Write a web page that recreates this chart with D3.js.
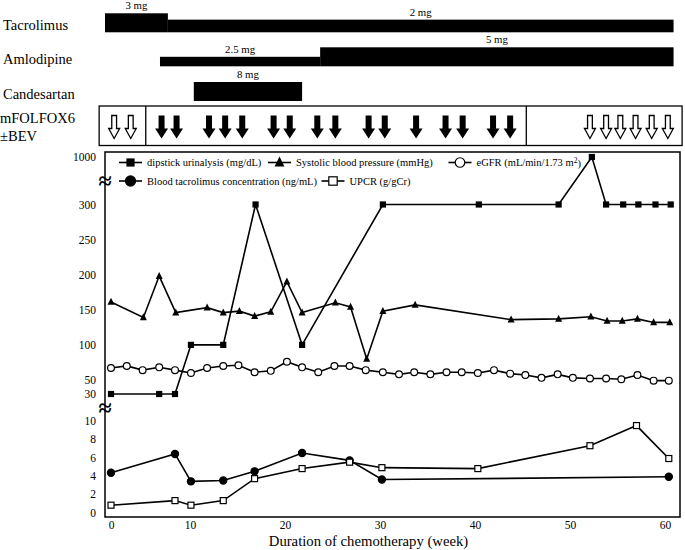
<!DOCTYPE html>
<html>
<head>
<meta charset="utf-8">
<script src="https://cdn.jsdelivr.net/npm/d3@7"></script>
<style>
  body { margin: 0; background: #fff; }
  text { font-family: "Liberation Serif", "Times New Roman", serif; fill: #000; }
</style>
</head>
<body>
<div class="chart"></div>
<script>
// weeks of chemotherapy and measured values
const dipWeeks = [0, 6.1, 8.1, 10.1, 13.5, 16.9, 21.8, 30.3, 40.4, 48.8, 52.3, 53.8, 55.6, 57.2, 59, 60.6];
const dipstick = [30, 30, 30, 100, 100, 300, 100, 300, 300, 300, 1000, 300, 300, 300, 300, 300];

const sbpWeeks = [0, 4.1, 6.1, 8.2, 11.8, 13.5, 15.2, 16.8, 18.5, 20.2, 21.8, 25.3, 26.9, 28.6, 30.3, 33.7, 43.8, 48.8, 52.2, 53.9, 55.5, 57.1, 58.8, 60.5];
const sbp = [161, 139, 198, 146, 153, 146, 148, 141, 147, 190, 146, 160, 154, 80, 148, 157, 136, 137, 140, 134, 134, 137, 132, 132];

const egfrWeeks = [0, 2, 4, 6.1, 8.1, 10.1, 11.8, 13.5, 15.1, 16.8, 18.5, 20.2, 21.8, 23.5, 25.2, 26.8, 28.5, 30.3, 32, 33.6, 35.3, 37, 38.6, 40.3, 42, 43.7, 45.3, 47, 48.7, 50.3, 52.1, 53.8, 55.4, 57.1, 58.8, 60.4];
const egfr = [67, 70, 64, 68, 64, 60, 67, 70, 71, 61, 63, 76, 68, 61, 70, 70, 64, 61, 58, 61, 58, 61, 61, 60, 64, 59, 57, 53, 58, 53, 52, 52, 51, 57, 49, 49];

const tacWeeks = [0, 8.1, 10.1, 13.5, 16.8, 21.8, 26.8, 30.2, 60.4];
const tacConc = [4.35, 6.4, 3.4, 3.5, 4.5, 6.5, 5.7, 3.6, 3.9];

const upcrWeeks = [0, 8.1, 10.1, 13.5, 16.8, 21.8, 26.8, 30.2, 40.3, 52.1, 57, 60.4];
const upcr = [0.8, 1.3, 0.8, 1.3, 3.7, 4.8, 5.5, 4.9, 4.8, 7.3, 9.5, 5.9];

// drug dosing periods (weeks)
const drugNames = ['Tacrolimus', 'Amlodipine', 'Candesartan'];
const drugMax = [3, 5, 8];
const tacrolimusDoses = [{from: -0.76, to: 7.2, dose: 3}, {from: 7.2, to: 60.9, dose: 2}];
const amlodipineDoses = [{from: 6.2, to: 23.7, dose: 2.5}, {from: 23.7, to: 60.9, dose: 5}];
const candesartanDoses = [{from: 10.4, to: 21.8, dose: 8}];

// chemotherapy cycles
const phaseBounds = [-1.5, 4.4, 45.4, 61.8];
const mfolfoxWeeks = [0.4, 2.5, 52.1, 53.8, 55.3, 56.9, 58.6, 60.3];
const bevWeeks = [6.4, 8.3, 12, 13.7, 15.5, 18.8, 20.5, 23.4, 25.3, 28.8, 30.5, 33.8, 36.9, 38.7, 41.9, 43.7];

const xTicks = [0, 10, 20, 30, 40, 50, 60];
const yTicks = [0, 2, 4, 6, 8, 10, 30, 50, 100, 150, 200, 250, 300, 1000];

const W = 685, H = 550;
const plot = {left: 105, right: 680, top: 152, bottom: 517};

const svg = d3.select('.chart').append('svg')
    .attr('width', W)
    .attr('height', H);

// x: first 10 weeks are squeezed in the original
const x = d3.scaleLinear()
    .domain([0, 10, 60])
    .range([111, 190, 665]);

// broken y axis: 0-10 / 30-300 / 1000
const y = d3.scaleLinear()
    .domain([0, 10, 30, 300, 1000])
    .range([512.5, 421, 394, 204.5, 157]);

// ---- drug bars ----
const rowBottom = [32.3, 66.3, 101];
const barMax = 19;
[tacrolimusDoses, amlodipineDoses, candesartanDoses].forEach((doses, i) => {
    const h = d3.scaleLinear().domain([0, drugMax[i]]).range([0, barMax]);
    svg.append('text')
        .attr('x', 3)
        .attr('y', rowBottom[i] - 7)
        .attr('dy', '0.35em')
        .attr('font-size', 14.5)
        .text(drugNames[i]);
    svg.append('g').selectAll('rect')
        .data(doses)
        .join('rect')
        .attr('x', d => x(d.from))
        .attr('width', d => x(d.to) - x(d.from))
        .attr('y', d => rowBottom[i] - h(d.dose))
        .attr('height', d => h(d.dose))
        .attr('fill', '#000');
    svg.append('g').selectAll('text')
        .data(doses)
        .join('text')
        .attr('x', d => (x(d.from) + x(d.to)) / 2)
        .attr('y', d => rowBottom[i] - h(d.dose) - 4)
        .attr('text-anchor', 'middle')
        .attr('font-size', 10.8)
        .text(d => d.dose + ' mg');
});

// ---- chemo box ----
const boxTop = 106, boxBottom = 145.5;
svg.append('rect')
    .attr('x', x(phaseBounds[0]))
    .attr('y', boxTop)
    .attr('width', x(phaseBounds[3]) - x(phaseBounds[0]))
    .attr('height', boxBottom - boxTop)
    .attr('fill', 'none')
    .attr('stroke', '#000')
    .attr('stroke-width', 1.3);
svg.append('g').selectAll('line')
    .data(phaseBounds.slice(1, 3))
    .join('line')
    .attr('x1', d => x(d)).attr('x2', d => x(d))
    .attr('y1', boxTop).attr('y2', boxBottom)
    .attr('stroke', '#000')
    .attr('stroke-width', 1.3);

svg.append('text').attr('x', 0).attr('y', 118).attr('dy', '0.35em')
    .attr('font-size', 14.5).text('mFOLFOX6');
svg.append('text').attr('x', 0).attr('y', 136).attr('dy', '0.35em')
    .attr('font-size', 14.5).text('±BEV');

function arrow(sw, hw) {
    // down arrow, tip at 0,23
    return `M${-sw},0 L${sw},0 L${sw},13 L${hw},13 L0,23 L${-hw},13 L${-sw},13 Z`;
}
const arrowTop = 115.5;
svg.append('g').selectAll('path')
    .data(bevWeeks)
    .join('path')
    .attr('transform', d => `translate(${x(d)},${arrowTop})`)
    .attr('d', arrow(3, 6.5))
    .attr('fill', '#000');
svg.append('g').selectAll('path')
    .data(mfolfoxWeeks)
    .join('path')
    .attr('transform', d => `translate(${x(d)},${arrowTop})`)
    .attr('d', arrow(2.4, 5.5))
    .attr('fill', '#fff')
    .attr('stroke', '#000')
    .attr('stroke-width', 1.3);

// ---- main plot ----
svg.append('rect')
    .attr('x', plot.left).attr('y', plot.top)
    .attr('width', plot.right - plot.left)
    .attr('height', plot.bottom - plot.top)
    .attr('fill', 'none')
    .attr('stroke', '#000')
    .attr('stroke-width', 1.5);

let X = svg.append('g')
    .attr('transform', `translate(0,${plot.bottom})`)
    .call(d3.axisBottom(x).tickValues(xTicks).tickSize(0).tickPadding(4));
X.select('.domain').remove();
X.selectAll('text').attr('font-size', 11.5);

let Y = svg.append('g')
    .attr('transform', `translate(${plot.left},0)`)
    .call(d3.axisLeft(y).tickValues(yTicks).tickFormat(d3.format('d')).tickSize(0).tickPadding(9));
Y.select('.domain').remove();
Y.selectAll('text').attr('font-size', 11.5);

// axis breaks
[[300, 1000], [10, 30]].forEach(p => {
    svg.append('text')
        .attr('x', plot.left)
        .attr('y', (y(p[0]) + y(p[1])) / 2)
        .attr('dy', '0.35em')
        .attr('text-anchor', 'middle')
        .attr('font-size', 24)
        .attr('font-weight', 'bold')
        .text('≈');
});

svg.append('text')
    .attr('x', 368.5)
    .attr('y', 546)
    .attr('text-anchor', 'middle')
    .attr('font-size', 14.7)
    .text('Duration of chemotherapy (week)');

const line = d3.line().x(d => x(d[0])).y(d => y(d[1]));

const series = [
    {weeks: dipWeeks, vals: dipstick, mark: 'square', fill: '#000', size: 5},
    {weeks: sbpWeeks, vals: sbp, mark: 'triangle', fill: '#000', size: 7},
    {weeks: egfrWeeks, vals: egfr, mark: 'circle', fill: '#fff', size: 3.4},
    {weeks: tacWeeks, vals: tacConc, mark: 'circle', fill: '#000', size: 3.6},
    {weeks: upcrWeeks, vals: upcr, mark: 'square', fill: '#fff', size: 6}
];

function drawMark(g, s, cx, cy, scale) {
    const k = scale || 1;
    if (s.mark === 'square') {
        const a = s.size * k;
        g.append('rect').attr('x', cx - a / 2).attr('y', cy - a / 2)
            .attr('width', a).attr('height', a)
            .attr('fill', s.fill).attr('stroke', '#000').attr('stroke-width', 1.2);
    } else if (s.mark === 'triangle') {
        const a = s.size * k;
        g.append('path')
            .attr('d', `M${cx},${cy - a * 0.6} L${cx + a / 2},${cy + a * 0.4} L${cx - a / 2},${cy + a * 0.4} Z`)
            .attr('fill', s.fill);
    } else {
        g.append('circle').attr('cx', cx).attr('cy', cy).attr('r', s.size * k)
            .attr('fill', s.fill).attr('stroke', '#000').attr('stroke-width', 1.2);
    }
}

series.forEach(s => {
    const pts = s.weeks.map((w, i) => [w, s.vals[i]]);
    svg.append('path')
        .datum(pts)
        .attr('d', line)
        .attr('fill', 'none')
        .attr('stroke', '#000')
        .attr('stroke-width', 1.6);
    const g = svg.append('g');
    pts.forEach(p => drawMark(g, s, x(p[0]), y(p[1])));
});

// ---- legend ----
const legend = [
    {s: series[0], cx: 130.5, cy: 162.5, label: 'dipstick urinalysis (mg/dL)'},
    {s: series[1], cx: 279.5, cy: 162.5, label: 'Systolic blood pressure (mmHg)'},
    {s: series[2], cx: 460, cy: 162.5, label: 'eGFR (mL/min/1.73 m'},
    {s: series[3], cx: 130.5, cy: 181, label: 'Blood tacrolimus concentration (ng/mL)'},
    {s: series[4], cx: 333, cy: 181, label: 'UPCR (g/gCr)'}
];
legend.forEach((d, i) => {
    const g = svg.append('g');
    g.append('line')
        .attr('x1', d.cx - 11.5).attr('x2', d.cx + 11.5)
        .attr('y1', d.cy).attr('y2', d.cy)
        .attr('stroke', '#000').attr('stroke-width', 1.6);
    drawMark(g, d.s, d.cx, d.cy, 1.4);
    const t = g.append('text')
        .attr('x', d.cx + 16.5)
        .attr('y', d.cy)
        .attr('dy', '0.35em')
        .attr('font-size', 10.5)
        .text(d.label);
    if (i === 2) {
        t.append('tspan').attr('dy', '-0.4em').attr('font-size', 7.5).text('2');
        t.append('tspan').attr('dy', '0.4em').text(')');
    }
});
</script>
</body>
</html>
